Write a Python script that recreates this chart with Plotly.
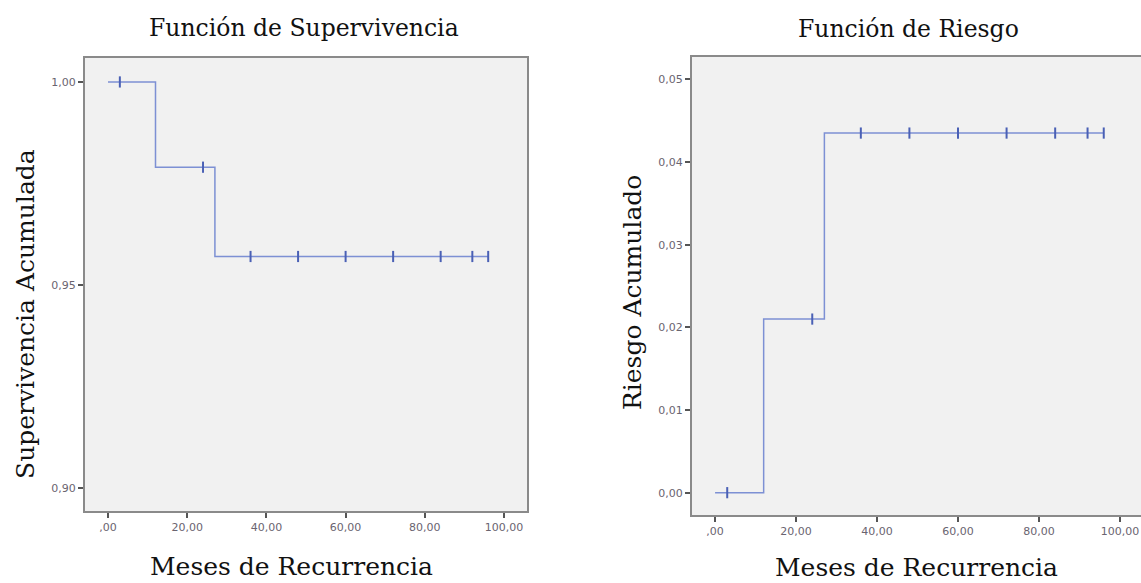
import plotly.graph_objects as go

# ---- data ----
surv_time = [0, 12, 27, 96]
surv_value = [1.0, 0.979, 0.957, 0.957]
surv_cens_time = [3, 24, 36, 48, 60, 72, 84, 92, 96]
surv_cens_value = [1.0, 0.979, 0.957, 0.957, 0.957, 0.957, 0.957, 0.957, 0.957]

haz_time = [0, 12, 27, 96]
haz_value = [0.0, 0.021, 0.0435, 0.0435]
haz_cens_time = [3, 24, 36, 48, 60, 72, 84, 92, 96]
haz_cens_value = [0.0, 0.021, 0.0435, 0.0435, 0.0435, 0.0435, 0.0435, 0.0435, 0.0435]

x_ticks = [0, 20, 40, 60, 80, 100]
x_ticklabels = [",00", "20,00", "40,00", "60,00", "80,00", "100,00"]
surv_yticks = [0.90, 0.95, 1.00]
surv_yticklabels = ["0,90", "0,95", "1,00"]
haz_yticks = [0.0, 0.01, 0.02, 0.03, 0.04, 0.05]
haz_yticklabels = ["0,00", "0,01", "0,02", "0,03", "0,04", "0,05"]

W, H = 1141, 583
LINE = "#7D90D4"
MARK = "#4A60B5"

fig = go.Figure()
fig.add_trace(go.Scatter(x=surv_time, y=surv_value, mode="lines", line=dict(shape="hv", color=LINE, width=1.5),
                         xaxis="x", yaxis="y", showlegend=False, hoverinfo="skip"))
fig.add_trace(go.Scatter(x=surv_cens_time, y=surv_cens_value, mode="markers",
                         marker=dict(symbol="line-ns-open", size=8, color=MARK, line=dict(color=MARK, width=2)),
                         xaxis="x", yaxis="y", showlegend=False))
fig.add_trace(go.Scatter(x=haz_time, y=haz_value, mode="lines", line=dict(shape="hv", color=LINE, width=1.5),
                         xaxis="x2", yaxis="y2", showlegend=False, hoverinfo="skip"))
fig.add_trace(go.Scatter(x=haz_cens_time, y=haz_cens_value, mode="markers",
                         marker=dict(symbol="line-ns-open", size=8, color=MARK, line=dict(color=MARK, width=2)),
                         xaxis="x2", yaxis="y2", showlegend=False))

tickfont = dict(family="DejaVu Sans", size=11, color="#6a6470")
axcommon = dict(showline=True, linecolor="#8a8a8a", linewidth=2, ticks="outside", ticklen=5,
                tickcolor="#555555", tickwidth=1.5, showgrid=False, zeroline=False, tickfont=tickfont,
                fixedrange=True)

fig.update_layout(
    width=W, height=H, margin=dict(l=0, r=0, t=0, b=0),
    paper_bgcolor="white", plot_bgcolor="#F1F1F1",
    xaxis=dict(domain=[85 / W, 527 / W], range=[-5.8, 105.8], tickvals=x_ticks, ticktext=x_ticklabels,
               anchor="y", mirror=True, **axcommon),
    yaxis=dict(domain=[1 - 511 / H, 1 - 58 / H], range=[0.8943, 1.0059], tickvals=surv_yticks,
               ticktext=surv_yticklabels, anchor="x", mirror=True, **axcommon),
    xaxis2=dict(domain=[692 / W, 1.0], range=[-5.7, 105.2], tickvals=x_ticks, ticktext=x_ticklabels,
                anchor="y2", mirror=True, **axcommon),
    yaxis2=dict(domain=[1 - 515 / H, 1 - 57 / H], range=[-0.0027, 0.0527], tickvals=haz_yticks,
                ticktext=haz_yticklabels, anchor="x2", mirror=False, **axcommon),
)

serif = "DejaVu Serif"
def ann(text, x, y, size, angle=0):
    fig.add_annotation(text=text, x=x / W, y=1 - y / H, xref="paper", yref="paper", showarrow=False,
                       xanchor="center", yanchor="middle", textangle=angle,
                       font=dict(family=serif, size=size, color="#111111"))

ann("Función de Supervivencia", 304, 28, 23.5)
ann("Función de Riesgo", 908, 29, 23.5)
ann("Meses de Recurrencia", 291, 566, 25)
ann("Meses de Recurrencia", 916, 567, 25)
ann("Supervivencia Acumulada", 26, 314, 25, -90)
ann("Riesgo Acumulado", 632, 293, 25, -90)

fig.write_html("out.html", config={"displayModeBar": False},
               post_script="document.body.style.margin='0';document.body.style.padding='0';"
                           "document.documentElement.style.overflow='hidden';")
